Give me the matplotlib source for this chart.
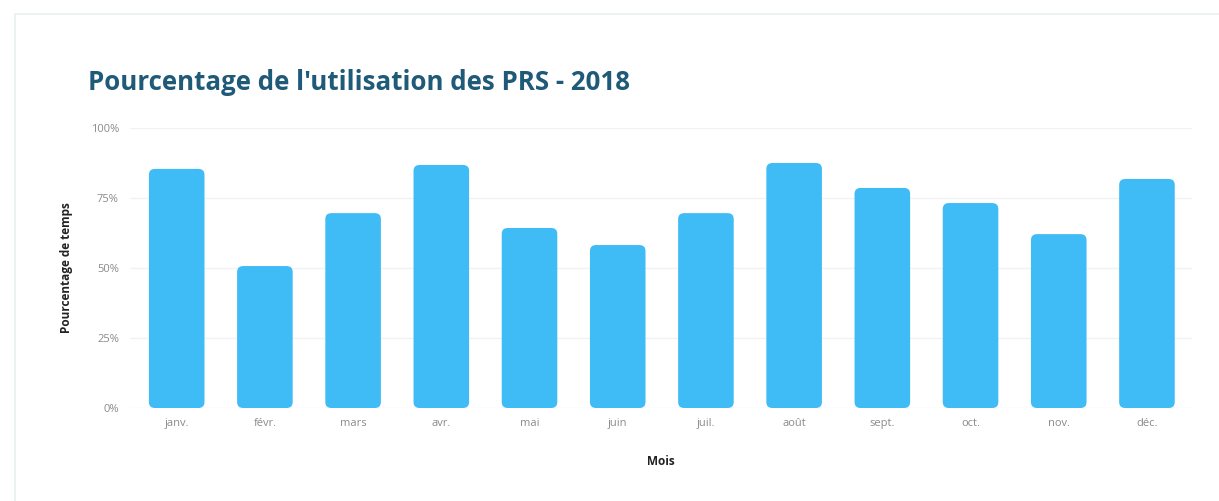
import matplotlib.pyplot as plt
from matplotlib.patches import FancyBboxPatch, Rectangle

# Utilisation mensuelle des PRS en 2018 (%)
mois = ["janv.", "févr.", "mars", "avr.", "mai", "juin",
        "juil.", "août", "sept.", "oct.", "nov.", "déc."]
pourcentage = [85.4, 50.7, 69.6, 86.8, 64.3, 58.2,
               69.6, 87.5, 78.6, 73.2, 62.1, 81.8]
yticks = [0, 25, 50, 75, 100]
ytick_labels = ["0%", "25%", "50%", "75%", "100%"]

plt.rcParams['font.family'] = ['Open Sans', 'DejaVu Sans']

fig = plt.figure(figsize=(12.19, 5.01), dpi=100)

# cadre clair autour du graphique
fig.patches.append(Rectangle((15 / 1219, -0.05), 1.1, 1 - 14 / 501 + 0.05,
                             transform=fig.transFigure, fill=False,
                             edgecolor="#e9f0f2", linewidth=1.2))

ax = fig.add_axes([0.1066, 0.1856, 0.8712, 0.5589])

bars = ax.bar(range(len(mois)), pourcentage, width=0.63, color="#3fbbf6")

# remplacer les barres par des rectangles aux coins arrondis
for b in bars:
    x, y = b.get_x(), b.get_y()
    w, h = b.get_width(), b.get_height()
    b.set_visible(False)
    ax.add_patch(FancyBboxPatch((x, y), w, h,
                                boxstyle="round,pad=0,rounding_size=0.07",
                                mutation_aspect=30,
                                facecolor="#3fbbf6", edgecolor="none"))

ax.set_xlim(-0.53, 11.51)
ax.set_ylim(0, 100)
ax.set_yticks(yticks)
ax.set_yticklabels(ytick_labels)
ax.set_xticks(range(len(mois)))
ax.set_xticklabels(mois)
ax.tick_params(axis="both", length=0, labelsize=8, labelcolor="#8a8a8a")
ax.tick_params(axis="y", pad=8)
ax.tick_params(axis="x", pad=7)
ax.grid(axis="y", color="#f0f2f3", linewidth=1)
ax.set_axisbelow(True)
for s in ax.spines.values():
    s.set_visible(False)

ax.set_xlabel("Mois", fontsize=8.5, fontweight="bold", color="#222222", labelpad=19)
ax.set_ylabel("Pourcentage de temps", fontsize=8.5, fontweight="bold",
              color="#222222", labelpad=13)

fig.text(88 / 1219, 1 - 82 / 501, "Pourcentage de l'utilisation des PRS - 2018",
         fontsize=18.6, fontweight="bold", color="#1f5a78", va="center", ha="left")

fig.savefig("out.png", dpi=100, facecolor="white")
